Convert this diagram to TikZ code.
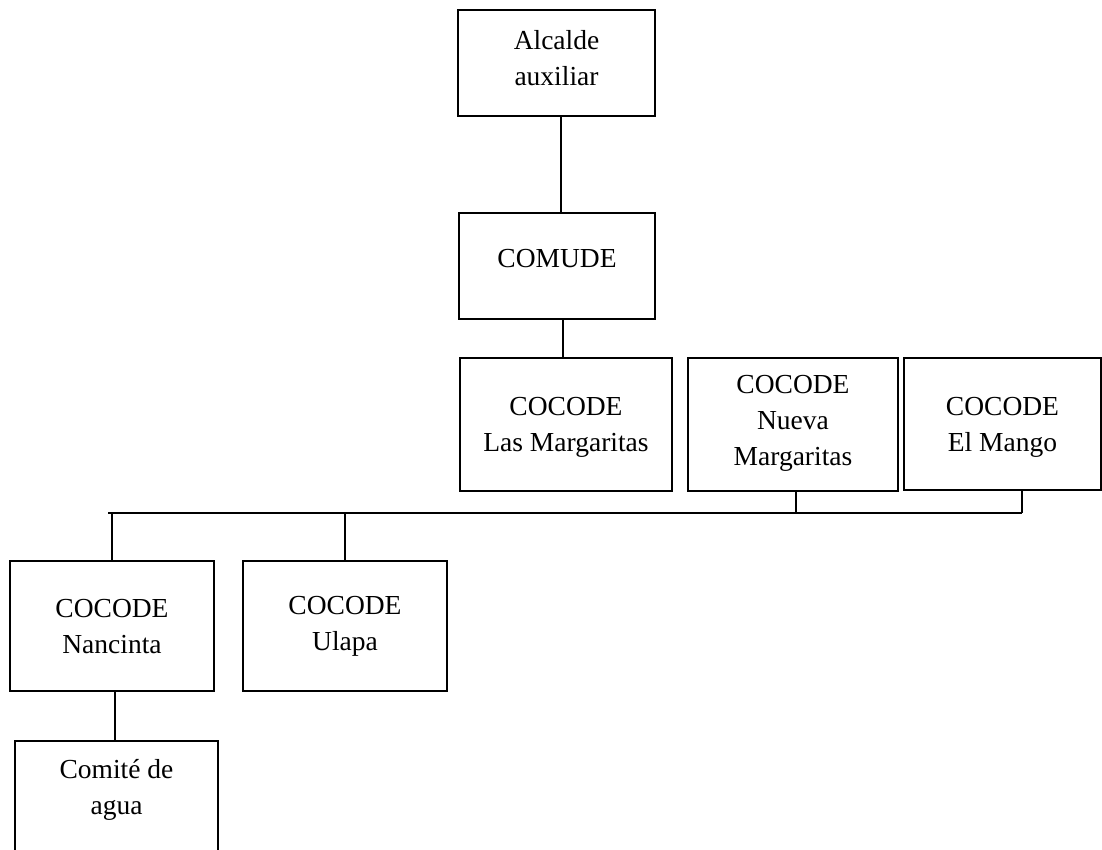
\documentclass[tikz,border=0pt]{standalone}
\usepackage{fontspec}
\setmainfont{Liberation Serif}
\begin{document}
\begin{tikzpicture}[x=1pt,y=-1pt,
  box/.style={draw=black, line width=2.6pt, rectangle, inner sep=0pt, minimum width=#1},
  box/.default=200,
  lbl/.style={align=center, inner sep=0pt, font=\fontsize{27.5}{36}\selectfont, text=black},
  conn/.style={draw=black, line width=1.2pt}]
\useasboundingbox (0,0) rectangle (1102,850);
\clip (0,0) rectangle (1102,850);
\fill[white] (0,0) rectangle (1102,850);

\node[box=197, minimum height=106, label={[lbl, yshift=5pt]center:{Alcalde\\auxiliar}}] (alc) at (556.5,63) {};
\node[box=196, minimum height=106, label={[lbl, yshift=7pt]center:{COMUDE}}] (comude) at (557,266) {};
\node[box=212, minimum height=133, label={[lbl, yshift=-3pt]center:{COCODE\\Las Margaritas}}] (lasm) at (566,424.5) {};
\node[box=210, minimum height=133, label={[lbl, yshift=1pt]center:{COCODE\\Nueva\\Margaritas}}] (nueva) at (793,424.5) {};
\node[box=197, minimum height=132, label={[lbl, yshift=-3pt]center:{COCODE\\El Mango}}] (mango) at (1002.5,424) {};
\node[box=204, minimum height=130, label={[lbl, yshift=-0.5pt]center:{COCODE\\Nancinta}}] (nan) at (112,626) {};
\node[box=204, minimum height=130, label={[lbl, yshift=-0.5pt]center:{COCODE\\Ulapa}}] (ula) at (345,626) {};
\node[box=203, minimum height=130, label={[lbl, yshift=16.5pt]center:{Comité de\\agua}}] (com) at (116.5,806) {};

\coordinate (busL) at (108,513);
\coordinate (busR) at (1022,513);

\draw[conn] ([xshift=4.5pt]alc.south) -- ([xshift=4.5pt]alc.south |- comude.north);
\draw[conn] ([xshift=6pt]comude.south) -- ([xshift=6pt]comude.south |- lasm.north);
\draw[conn] (busL) -- (busR);
\draw[conn] ([xshift=3pt]nueva.south) -- ([xshift=3pt]nueva.south |- busR);
\draw[conn] ([xshift=19.5pt]mango.south) -- (busR);
\draw[conn] (nan.north) -- (nan.north |- busL);
\draw[conn] (ula.north) -- (ula.north |- busL);
\draw[conn] ([xshift=3pt]nan.south) -- ([xshift=3pt]nan.south |- com.north);
\end{tikzpicture}
\end{document}
